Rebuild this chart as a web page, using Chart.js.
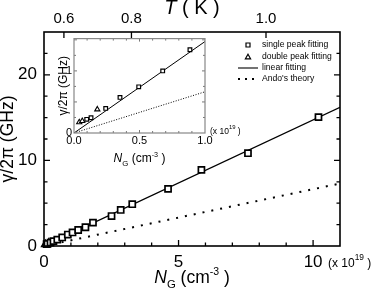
<!DOCTYPE html>
<html>
<head>
<meta charset="utf-8">
<script src="https://cdn.jsdelivr.net/npm/chart.js@4.4.1/dist/chart.umd.min.js"></script>
<style>
  html, body { margin: 0; padding: 0; background: #fff; }
  #wrap { position: relative; width: 382px; height: 292px; }
  #main { position: absolute; left: 0; top: 0; }
  #inset { position: absolute; left: 40px; top: 30px; }
</style>
</head>
<body>
<div id="wrap">
  <canvas id="main" width="382" height="292"></canvas>
  <canvas id="inset" width="210" height="145"></canvas>
</div>
<script>
"use strict";

// N_G in units of 1e19 cm^-3, gamma/2pi in GHz
const singleN = [0.097, 0.13, 0.242, 0.351, 0.494, 0.677, 0.885, 1.06, 1.27, 1.54, 1.82, 2.51, 2.85, 3.28, 4.61, 5.85, 7.58, 10.2];
const singleG = [0.22, 0.245, 0.396, 0.573, 0.743, 1.0, 1.34, 1.58, 1.87, 2.19, 2.73, 3.5, 4.21, 4.88, 6.67, 8.89, 10.84, 15.05];
const doubleN = [0.04, 0.063, 0.178];
const doubleG = [0.172, 0.193, 0.38];
const fitN = [0, 11];
const fitG = [0, 16.2];
const andoN = [0, 11];
const andoG = [0, 7.3];

const xTicks = [0, 5, 10];
const yTicks = [0, 10, 20];
const tTickPos = [0.74, 3.25, 8.25];
const tTickLabels = ['0.6', '0.8', '1.0'];
const insetXTicks = [0, 0.5, 1];
const insetYTicks = [0, 1];
const legendLabels = ['single peak fitting', 'double peak fitting', 'linear fitting', "Ando's theory"];

const FONT = "'Liberation Sans', Arial, sans-serif";
Chart.defaults.font.family = FONT;
Chart.defaults.color = '#000';

function pts(xs, ys, maxX) {
    return xs.map((x, i) => ({ x: x, y: ys[i] })).filter(p => maxX === undefined || p.x <= maxX);
}

// draw a run of text pieces: [text, size, italic, dy]
function richText(ctx, parts, x, y, align) {
    const f = p => (p[2] ? 'italic ' : '') + p[1] + 'px ' + FONT;
    let w = 0;
    parts.forEach(p => { ctx.font = f(p); w += ctx.measureText(p[0]).width; });
    let cx = align === 'center' ? x - w / 2 : (align === 'right' ? x - w : x);
    ctx.textAlign = 'left';
    parts.forEach(p => {
        ctx.font = f(p);
        ctx.fillText(p[0], cx, y + (p[3] || 0));
        cx += ctx.measureText(p[0]).width;
    });
}

// Frame + inward ticks
const frameTicks = {
    id: 'frameTicks',
    afterDatasetsDraw(chart, args, o) {
        const ctx = chart.ctx, a = chart.chartArea;
        const xs = chart.scales.x, ys = chart.scales.y;
        ctx.save();
        ctx.strokeStyle = o.color;
        ctx.lineWidth = o.tickWidth;
        ctx.beginPath();
        const onMajor = (v, m) => Math.abs(v / m - Math.round(v / m)) < 1e-6;
        let n = Math.round((xs.max - xs.min) / o.xMinor);
        for (let i = 1; i < n; i++) {
            const v = xs.min + i * o.xMinor;
            const px = xs.getPixelForValue(v);
            const len = onMajor(v, o.xMajor) ? o.majorLen : o.minorLen;
            ctx.moveTo(px, a.bottom); ctx.lineTo(px, a.bottom - len);
            if (o.mirrorX) { ctx.moveTo(px, a.top); ctx.lineTo(px, a.top + len); }
        }
        n = Math.round((ys.max - ys.min) / o.yMinor);
        for (let i = 1; i <= n; i++) {
            const v = ys.min + i * o.yMinor;
            if (v >= ys.max - 1e-9) break;
            const py = ys.getPixelForValue(v);
            const len = onMajor(v, o.yMajor) ? o.majorLen : o.minorLen;
            ctx.moveTo(a.left, py); ctx.lineTo(a.left + len, py);
            ctx.moveTo(a.right, py); ctx.lineTo(a.right - len, py);
        }
        if (chart.scales.xTop) {
            const ts = chart.scales.xTop;
            tTickPos.forEach(v => {
                const px = ts.getPixelForValue(v);
                ctx.moveTo(px, a.top); ctx.lineTo(px, a.top + o.majorLen);
            });
        }
        ctx.stroke();
        ctx.lineWidth = o.frameWidth;
        ctx.strokeStyle = o.frameColor;
        ctx.strokeRect(a.left, a.top, a.right - a.left, a.bottom - a.top);
        ctx.restore();
    }
};

// axis titles, multiplier, legend
const decor = {
    id: 'decor',
    afterDraw(chart, args, o) {
        const ctx = chart.ctx, a = chart.chartArea;
        const cx = (a.left + a.right) / 2, cy = (a.top + a.bottom) / 2;
        const s = o.size;
        ctx.save();
        ctx.fillStyle = '#000';
        ctx.textBaseline = 'alphabetic';
        // x title
        richText(ctx, [['N', s, true], ['G', s * 0.65, false, s * 0.3], [' (cm', s], ['-3', s * 0.6, false, -s * 0.45], [' )', s]],
            cx, o.xTitleY, 'center');
        // y title
        ctx.save();
        ctx.translate(o.yTitleX, cy);
        ctx.rotate(-Math.PI / 2);
        ctx.textBaseline = 'middle';
        richText(ctx, [['\u03b3/2\u03c0 (GHz)', s]], 0, 0, 'center');
        ctx.restore();
        // multiplier
        const m = o.mult;
        richText(ctx, [['(x 10', m.size], ['19', m.size * 0.7, false, -m.size * 0.6], [' )', m.size]], m.x, m.y, 'left');
        if (o.topTitle) {
            const t = o.topTitle;
            richText(ctx, [['T', t.size, true], [' ( K )', t.size]], cx, t.y, 'center');
        }
        if (o.legend) {
            const L = o.legend;
            ctx.font = L.size + 'px ' + FONT;
            ctx.textBaseline = 'middle';
            ctx.strokeStyle = '#000';
            legendLabels.forEach((lab, i) => {
                const y = L.y[i];
                ctx.fillStyle = '#000';
                ctx.fillText(lab, L.textX, y);
                ctx.beginPath();
                ctx.lineWidth = 1.2;
                if (i === 0) {
                    ctx.rect(L.markX - 2, y - 2, 4, 4);
                    ctx.stroke();
                } else if (i === 1) {
                    ctx.moveTo(L.markX, y - 2.8); ctx.lineTo(L.markX + 2.6, y + 1.8); ctx.lineTo(L.markX - 2.6, y + 1.8);
                    ctx.closePath();
                    ctx.stroke();
                } else if (i === 2) {
                    ctx.lineWidth = 1.1;
                    ctx.moveTo(L.lineX0, y); ctx.lineTo(L.lineX1, y);
                    ctx.stroke();
                } else {
                    ctx.lineWidth = 2;
                    ctx.setLineDash([2, 5]);
                    ctx.moveTo(L.lineX0, y); ctx.lineTo(L.lineX1, y);
                    ctx.stroke();
                    ctx.setLineDash([]);
                }
            });
        }
        ctx.restore();
    }
};

function datasets(inset) {
    const maxX = inset ? 1 : undefined;
    return [
        { label: legendLabels[0], data: pts(singleN, singleG, maxX), pointStyle: 'rect',
          pointRadius: inset ? 2.6 : 4.3, borderWidth: inset ? 1.2 : 1.7,
          borderColor: '#000', backgroundColor: '#fff', clip: inset ? 4 : false },
        { label: legendLabels[1], data: pts(doubleN, doubleG, maxX), pointStyle: 'triangle',
          pointRadius: inset ? 3 : 4, borderWidth: inset ? 1.1 : 1.5,
          borderColor: '#000', backgroundColor: '#fff', clip: inset ? 4 : false },
        { label: legendLabels[2], data: pts(fitN, fitG), showLine: true, pointRadius: 0,
          borderColor: '#000', borderWidth: inset ? 1 : 1.3 },
        { label: legendLabels[3], data: pts(andoN, andoG), showLine: true, pointRadius: 0,
          borderColor: '#000', borderWidth: inset ? 1 : 2,
          borderDash: inset ? [1, 1.6] : [2, 7] }
    ];
}

const common = {
    responsive: false,
    animation: false,
    devicePixelRatio: 1,
    events: []
};

new Chart(document.getElementById('main'), {
    type: 'scatter',
    data: { datasets: datasets(false) },
    options: Object.assign({}, common, {
        layout: { padding: { right: 42, left: 0, top: 0, bottom: 0 } },
        plugins: {
            legend: { display: false }, tooltip: { enabled: false },
            frameTicks: { color: '#000', tickWidth: 1.3, frameColor: '#000', frameWidth: 1.6,
                          xMinor: 1, xMajor: 5, yMinor: 2.5, yMajor: 10, majorLen: 6, minorLen: 3.5, mirrorX: false },
            decor: { size: 17.5, xTitleY: 283, yTitleX: 8,
                     mult: { x: 328, y: 267, size: 12 },
                     topTitle: { size: 20, y: 14 },
                     legend: { size: 8.6, y: [45, 57, 68, 79], markX: 248, textX: 262, lineX0: 238, lineX1: 258 } }
        },
        scales: {
            x: { type: 'linear', position: 'bottom', min: 0, max: 11,
                 grid: { display: false, drawTicks: false }, border: { display: false },
                 ticks: { font: { size: 17 }, padding: 6, autoSkip: false, maxRotation: 0 },
                 afterBuildTicks: s => { s.ticks = xTicks.map(v => ({ value: v })); },
                 afterFit: s => { s.height = 46; } },
            xTop: { type: 'linear', position: 'top', min: 0, max: 11,
                 grid: { display: false, drawTicks: false }, border: { display: false },
                 ticks: { font: { size: 15 }, padding: 4, autoSkip: false, maxRotation: 0,
                          callback: (v, i) => tTickLabels[i] },
                 afterBuildTicks: s => { s.ticks = tTickPos.map(v => ({ value: v })); },
                 afterFit: s => { s.height = 32; } },
            y: { type: 'linear', min: 0, max: 25,
                 grid: { display: false, drawTicks: false }, border: { display: false },
                 ticks: { font: { size: 17 }, padding: 7, autoSkip: false },
                 afterBuildTicks: s => { s.ticks = yTicks.map(v => ({ value: v })); },
                 afterFit: s => { s.width = 44; } }
        }
    }),
    plugins: [frameTicks, decor]
});

new Chart(document.getElementById('inset'), {
    type: 'scatter',
    data: { datasets: datasets(true) },
    options: Object.assign({}, common, {
        layout: { padding: { right: 45, left: 0, top: 8, bottom: 0 } },
        plugins: {
            legend: { display: false }, tooltip: { enabled: false },
            frameTicks: { color: '#777', tickWidth: 1, frameColor: '#888', frameWidth: 1.2,
                          xMinor: 0.1, xMajor: 0.5, yMinor: 0.25, yMajor: 0.5, majorLen: 3, minorLen: 2, mirrorX: true },
            decor: { size: 12, xTitleY: 132, yTitleX: 24,
                     mult: { x: 170, y: 104, size: 8.5 } }
        },
        scales: {
            x: { type: 'linear', min: 0, max: 1,
                 grid: { display: false, drawTicks: false }, border: { display: false },
                 ticks: { font: { size: 11 }, padding: 1, autoSkip: false, maxRotation: 0,
                          callback: v => v.toFixed(1) },
                 afterBuildTicks: s => { s.ticks = insetXTicks.map(v => ({ value: v })); },
                 afterFit: s => { s.height = 42; } },
            y: { type: 'linear', min: 0, max: 1.52,
                 grid: { display: false, drawTicks: false }, border: { display: false },
                 ticks: { font: { size: 11 }, padding: 2, autoSkip: false },
                 afterBuildTicks: s => { s.ticks = insetYTicks.map(v => ({ value: v })); },
                 afterFit: s => { s.width = 34; } }
        }
    }),
    plugins: [frameTicks, decor]
});
</script>
</body>
</html>
